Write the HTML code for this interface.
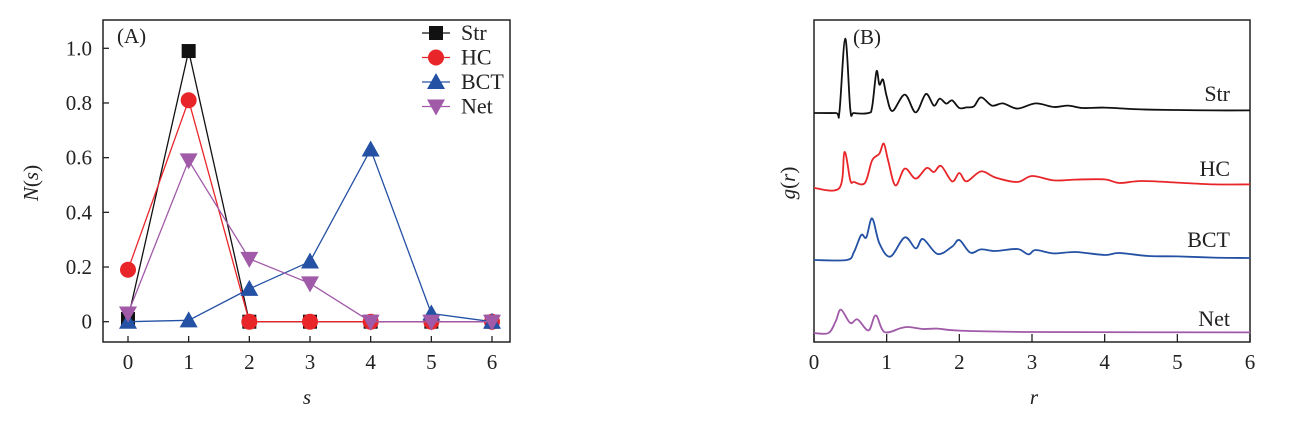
<!DOCTYPE html>
<html><head><meta charset="utf-8"><style>
body{margin:0;background:#fff;}
svg{display:block;font-family:"Liberation Serif",serif;}
</style></head><body>
<svg id="c" width="1307" height="423"></svg>
<script>
const NS="http://www.w3.org/2000/svg";
const svg=document.getElementById('c');
// Panel A data
const sVals=[0,1,2,3,4,5,6];
const strVals=[0.01,0.99,0,0,0,0,0];
const hcVals=[0.19,0.81,0,0,0,0,0];
const bctVals=[0,0.005,0.12,0.22,0.63,0.03,0];
const netVals=[0.03,0.59,0.23,0.14,0,0,0];
const yTicksA=[0,0.2,0.4,0.6,0.8,1.0];
const yTickLabelsA=["0","0.2","0.4","0.6","0.8","1.0"];
// Panel B data: r positions and g(r) values
const strR=[0,0.3,0.35,0.43,0.5,0.55,0.75,0.8,0.86,0.9,0.95,1.0,1.08,1.25,1.4,1.54,1.65,1.73,1.82,1.9,2.0,2.1,2.2,2.3,2.45,2.6,2.8,3.05,3.3,3.5,3.7,4,4.5,5,5.5,6];
const strG=[1,1,1.05,4.72,1.17,1,1,1.3,3.08,2.42,2.67,1.83,1.1,1.92,1.03,1.95,1.37,1.72,1.47,1.63,1.25,1.28,1.33,1.78,1.37,1.48,1.22,1.48,1.3,1.37,1.25,1.27,1.18,1.15,1.13,1.13];
const hcR=[0,0.35,0.42,0.5,0.55,0.7,0.8,0.9,0.96,1.02,1.12,1.25,1.4,1.55,1.65,1.75,1.9,2.0,2.1,2.3,2.5,2.8,3.0,3.3,3.6,4.0,4.2,4.5,5,5.5,6];
const hcG=[1,1,2.8,1.38,1.3,1.25,2.38,2.72,3.22,2.38,1.13,1.97,1.47,2.0,1.8,2.1,1.33,1.75,1.33,1.83,1.52,1.3,1.6,1.38,1.42,1.43,1.25,1.35,1.27,1.18,1.18];
const bctR=[0,0.45,0.55,0.65,0.72,0.8,0.9,1.05,1.25,1.4,1.5,1.7,1.9,2.0,2.15,2.3,2.5,2.8,2.95,3.05,3.3,3.6,4,4.2,4.6,5,5.5,6];
const bctG=[1,1,1.4,2.25,2.13,3.08,1.83,1.17,2.13,1.58,2.05,1.3,1.67,2.0,1.37,1.53,1.45,1.55,1.28,1.5,1.33,1.4,1.25,1.35,1.2,1.18,1.12,1.1];
const netR=[0,0.2,0.3,0.37,0.5,0.6,0.75,0.85,0.97,1.2,1.3,1.5,1.7,2,3,6];
const netG=[1,1,1.6,2.17,1.5,1.68,1.13,1.88,1.05,1.25,1.3,1.2,1.22,1.12,1.05,1.03];
const xTicksB=[0,1,2,3,4,5,6];

function el(tag,attrs,parent){const e=document.createElementNS(NS,tag);for(const k in attrs)e.setAttribute(k,attrs[k]);(parent||svg).appendChild(e);return e;}
function txt(s,attrs,parent){const e=el('text',attrs,parent);e.textContent=s;return e;}

// ---------- Panel A ----------
const ax=s=>128+s*(492-128)/6;
const ay=v=>321.7-v*273.4;
const gA=el('g',{});


const fA=el('rect',{x:103,y:20,width:407,height:322,fill:'none',stroke:'#222','stroke-width':1.5},gA);


yTicksA.forEach((v,i)=>{
  el('line',{x1:103,x2:109,y1:ay(v),y2:ay(v),stroke:'#222','stroke-width':1.3},gA);
  const t=txt(yTickLabelsA[i],{x:92,y:ay(v)+7,'font-size':21,'text-anchor':'end',fill:'#222'},gA);
  
  
});
sVals.forEach(s=>{
  el('line',{x1:ax(s),x2:ax(s),y1:342,y2:336,stroke:'#222','stroke-width':1.3},gA);
  const t=txt(String(s),{x:ax(s),y:369,'font-size':21,'text-anchor':'middle',fill:'#222'},gA);
  
  
});
let t=txt('s',{x:307,y:404,'font-size':21,'font-style':'italic','text-anchor':'middle',fill:'#222'},gA);


t=el('text',{x:0,y:0,'font-size':21,'text-anchor':'middle',fill:'#222',transform:'translate(38,183) rotate(-90)'},gA);
t.innerHTML='<tspan font-style="italic">N</tspan>(<tspan font-style="italic">s</tspan>)';


t=txt('(A)',{x:117,y:43,'font-size':21,fill:'#222'},gA);



function marker(type,x,y,color,parent){
  let m;
  if(type==='sq') m=el('rect',{x:x-7,y:y-7,width:14,height:14,fill:color},parent);
  else if(type==='ci') m=el('circle',{cx:x,cy:y,r:8,fill:color},parent);
  else if(type==='up') m=el('polygon',{points:`${x},${y-9} ${x-9},${y+7} ${x+9},${y+7}`,fill:color},parent);
  else m=el('polygon',{points:`${x},${y+9} ${x-9},${y-7} ${x+9},${y-7}`,fill:color},parent);
  return m;
}
const seriesA=[
  {name:'str',vals:strVals,color:'#111',m:'sq',label:'Str'},
  {name:'hc',vals:hcVals,color:'#e8262a',m:'ci',label:'HC'},
  {name:'bct',vals:bctVals,color:'#2451a4',m:'up',label:'BCT'},
  {name:'net',vals:netVals,color:'#a05aa8',m:'dn',label:'Net'}
];
seriesA.forEach((s,si)=>{
  const g=el('g',{},gA);
  
  
  const pts=s.vals.map((v,i)=>ax(sVals[i])+','+ay(v)).join(' ');
  el('polyline',{points:pts,fill:'none',stroke:s.color,'stroke-width':1.3},g);
  s.vals.forEach((v,i)=>{
    const m=marker(s.m,ax(sVals[i]),ay(v),s.color,g);
    
    
  });
  const ly=33+si*24.5;
  const lg=el('g',{},gA);
  
  
  el('line',{x1:422,x2:450,y1:ly,y2:ly,stroke:s.color,'stroke-width':1.3},lg);
  marker(s.m,436,ly,s.color,lg);
  txt(s.label,{x:461,y:ly+7,'font-size':22,fill:'#222'},lg);
});

// ---------- Panel B ----------
const bx=r=>814+r*(1250-814)/6;
const K=20;
const gB=el('g',{});


const fB=el('rect',{x:814,y:20,width:436,height:322,fill:'none',stroke:'#222','stroke-width':1.5},gB);


xTicksB.forEach(r=>{
  el('line',{x1:bx(r),x2:bx(r),y1:342,y2:334,stroke:'#222','stroke-width':1.3},gB);
  const tt=txt(String(r),{x:bx(r),y:369,'font-size':21,'text-anchor':'middle',fill:'#222'},gB);
  
  
});
t=txt('r',{x:1034,y:404,'font-size':21,'font-style':'italic','text-anchor':'middle',fill:'#222'},gB);


t=el('text',{x:0,y:0,'font-size':21,'text-anchor':'middle',fill:'#222',transform:'translate(795,183) rotate(-90)'},gB);
t.innerHTML='<tspan font-style="italic">g</tspan>(<tspan font-style="italic">r</tspan>)';


t=txt('(B)',{x:853,y:44,'font-size':21,fill:'#222'},gB);


const seriesB=[
  {name:'str',r:strR,g:strG,base:113,color:'#111',label:'Str',ly:101},
  {name:'hc',r:hcR,g:hcG,base:188,color:'#e8262a',label:'HC',ly:176},
  {name:'bct',r:bctR,g:bctG,base:260,color:'#2451a4',label:'BCT',ly:247},
  {name:'net',r:netR,g:netG,base:333,color:'#a05aa8',label:'Net',ly:326}
];
function smoothPath(P){
  let d='M'+P[0][0].toFixed(1)+','+P[0][1].toFixed(1);
  for(let i=0;i<P.length-1;i++){
    const p0=P[Math.max(0,i-1)],p1=P[i],p2=P[i+1],p3=P[Math.min(P.length-1,i+2)];
    const c1x=p1[0]+(p2[0]-p0[0])/6,c1y=p1[1]+(p2[1]-p0[1])/6;
    const c2x=p2[0]-(p3[0]-p1[0])/6,c2y=p2[1]-(p3[1]-p1[1])/6;
    d+=`C${c1x.toFixed(1)},${c1y.toFixed(1)} ${c2x.toFixed(1)},${c2y.toFixed(1)} ${p2[0].toFixed(1)},${p2[1].toFixed(1)}`;
  }
  return d;
}
seriesB.forEach(s=>{
  const P=s.r.map((r,i)=>[bx(r),s.base-(s.g[i]-1)*K]);
  const p=el('path',{d:smoothPath(P),fill:'none',stroke:s.color,'stroke-width':1.8,'stroke-linejoin':'round'},gB);
  
  
  const lt=txt(s.label,{x:1230,y:s.ly,'font-size':22,'text-anchor':'end',fill:'#222'},gB);
  
  
});
</script>
</body></html>
